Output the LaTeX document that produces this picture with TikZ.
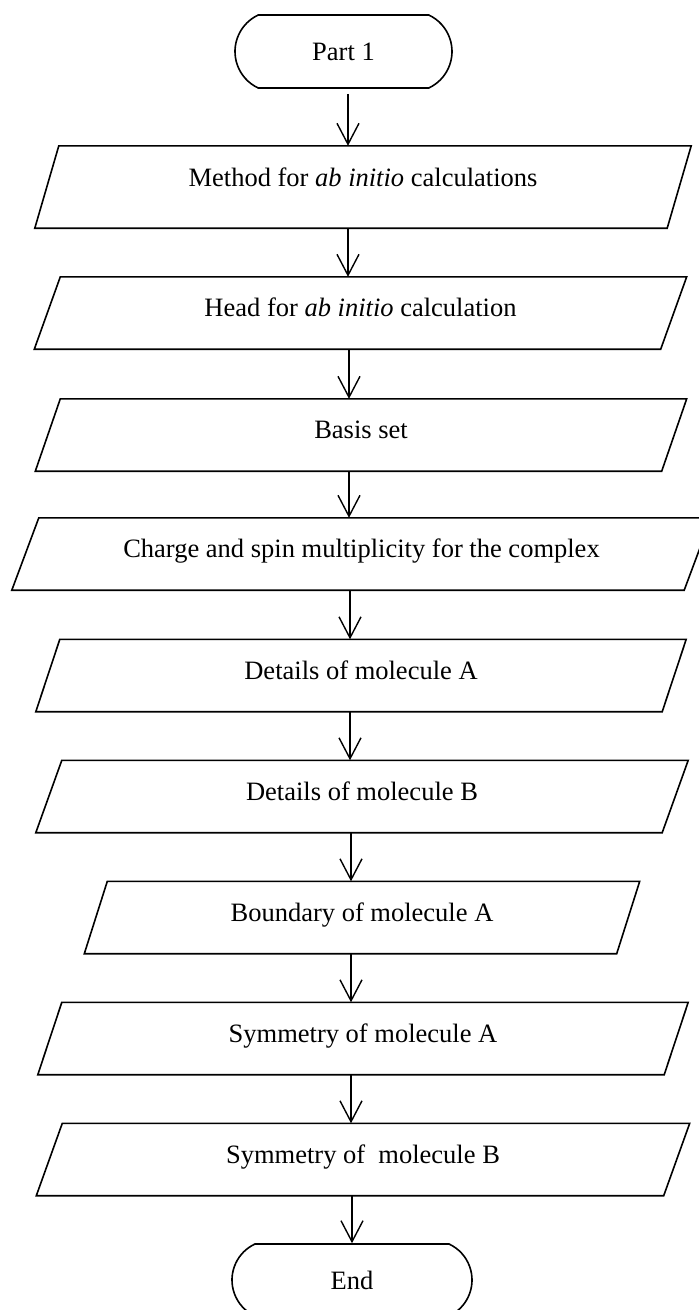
\documentclass[tikz,border=0pt]{standalone}
\usepackage{fontspec}
\setmainfont{Liberation Serif}
\usetikzlibrary{arrows.meta,shapes.misc}
\newcommand\paraoutline[2]{\draw[shapeline] ([xshift=#2]#1.north west) -- ([xshift=#2]#1.north east) -- ([xshift=-#2]#1.south east) -- ([xshift=-#2]#1.south west) -- cycle;}
\tikzset{
  every node/.style={font=\fontsize{26.5}{31}\selectfont},
  term/.style={rounded rectangle, rounded rectangle arc length=130, draw, line width=1.6pt, inner sep=0pt},
  para/.style={rectangle, inner sep=0pt, minimum height=72pt, text height=18pt, text depth=10.6pt},
  arr/.style={line width=1.4pt, -{Straight Barb[length=21pt,width=22pt]}},
  shapeline/.style={line width=1.6pt, line join=miter}
}
\begin{document}
\begin{tikzpicture}[x=1pt,y=-1pt]
\useasboundingbox (0,0) rectangle (699,1310);
\node[term, minimum width=217pt, minimum height=73pt] (t1) at (343.5,51.5) {Part 1};
\node[para, minimum width=632pt, minimum height=82pt, text depth=19.6pt] (p1) at (363,187) {Method for \textit{ab initio} calculations};
\node[para, minimum width=626pt] (p2) at (360.5,313) {Head for \textit{ab initio} calculation};
\node[para, minimum width=626pt] (p3) at (361,435) {Basis set};
\node[para, minimum width=672pt] (p4) at (361.5,554) {Charge and spin multiplicity for the complex};
\node[para, minimum width=626pt] (p5) at (361,675.5) {Details of molecule A};
\node[para, minimum width=626pt] (p6) at (362,796.5) {Details of molecule B};
\node[para, minimum width=532pt] (p7) at (362,917.5) {Boundary of molecule A};
\node[para, minimum width=626pt] (p8) at (363,1038.5) {Symmetry of molecule A};
\node[para, minimum width=627pt] (p9) at (363,1159.5) {Symmetry of~ molecule B};
\node[term, minimum width=240pt, minimum height=72pt] (t2) at (352,1280) {End};
\paraoutline{p1}{12pt}
\paraoutline{p2}{13pt}
\paraoutline{p3}{12.5pt}
\paraoutline{p4}{13.5pt}
\paraoutline{p5}{12pt}
\paraoutline{p6}{13pt}
\paraoutline{p7}{11.5pt}
\paraoutline{p8}{12pt}
\paraoutline{p9}{13pt}
\coordinate (a0) at (348,0);
\coordinate (a1) at (349,0);
\coordinate (a2) at (350,0);
\coordinate (a3) at (351,0);
\coordinate (a4) at (352,0);
\draw[arr, shorten <=5pt] (t1.south -| a0) -- (p1.north -| a0);
\draw[arr] (p1.south -| a0) -- (p2.north -| a0);
\draw[arr] (p2.south -| a1) -- (p3.north -| a1);
\draw[arr] (p3.south -| a1) -- (p4.north -| a1);
\draw[arr] (p4.south -| a2) -- (p5.north -| a2);
\draw[arr] (p5.south -| a2) -- (p6.north -| a2);
\draw[arr] (p6.south -| a3) -- (p7.north -| a3);
\draw[arr] (p7.south -| a3) -- (p8.north -| a3);
\draw[arr] (p8.south -| a3) -- (p9.north -| a3);
\draw[arr] (p9.south -| a4) -- (t2.north -| a4);
\end{tikzpicture}
\end{document}
